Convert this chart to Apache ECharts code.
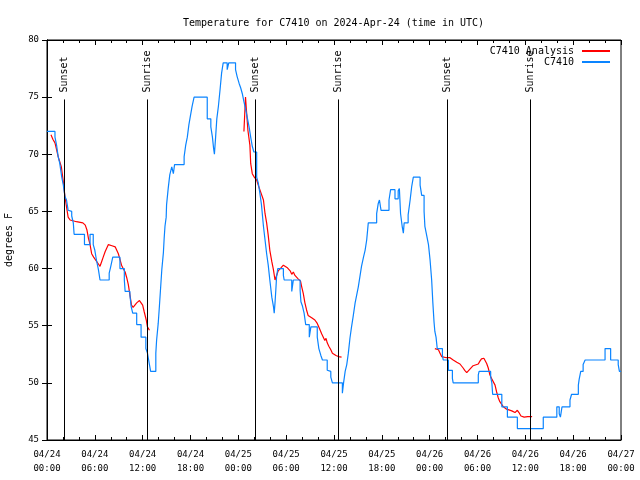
<!DOCTYPE html>
<html>
<head>
<meta charset="utf-8">
<script src="https://cdn.jsdelivr.net/npm/echarts@6/dist/echarts.min.js"></script>
<style>html,body{margin:0;padding:0;background:#fff}#c{width:640px;height:480px}</style>
</head>
<body>
<div id="c"></div>
<script>
// hours since 2024-04-24 00:00 UTC, temperature (F)
const xTickLabels = ['04/24\n00:00','04/24\n06:00','04/24\n12:00','04/24\n18:00','04/25\n00:00','04/25\n06:00','04/25\n12:00','04/25\n18:00','04/26\n00:00','04/26\n06:00','04/26\n12:00','04/26\n18:00','04/27\n00:00'];
const yTicks = [45,50,55,60,65,70,75,80];

const obsC7410 = [
[0,72.0],[1.0,71.5],[1.2,70.8],[1.4,69.8],[1.6,69.2],[1.85,68.0],[2.05,67.3],[2.25,66.3],[2.45,66.0],[2.65,65.1],
[2.9,65.0],[3.1,64.6],[3.3,64.0],[3.4,63.0],[4.7,62.1],[5.4,63.0],[5.8,62.1],[6.0,61.6],[6.2,60.75],[6.45,59.9],
[6.65,59.0],[7.8,59.6],[8.0,60.2],[8.25,61.0],[9.15,60.0],[9.7,59.0],[9.8,58.0],[10.4,57.7],[10.55,56.7],[10.75,56.1],
[11.25,55.1],[11.8,54.0],[12.4,53.0],[12.6,52.6],[12.85,51.6],[13.0,51.0],[13.65,52.6],[13.75,53.75],[13.95,55.2],[14.1,56.7],
[14.25,58.3],[14.4,59.9],[14.6,61.4],[14.7,62.7],[14.8,63.7],[14.95,64.5],[15.0,65.6],[15.2,67.0],[15.4,68.2],[15.65,68.9],
[15.85,68.3],[16.0,69.1],[17.2,69.8],[17.4,70.8],[17.6,71.5],[17.8,72.6],[18.0,73.4],[18.2,74.2],[18.45,75.0],[20.1,73.1],
[20.55,72.4],[20.75,71.5],[20.9,70.5],[21.0,70.0],[21.15,71.5],[21.3,73.1],[21.5,74.2],[21.7,75.6],[21.9,77.1],[22.1,78.0],
[22.6,77.4],[22.8,78.0],[23.65,77.4],[23.85,76.8],[24.1,76.2],[24.3,75.8],[24.5,75.3],[24.7,74.6],[24.9,74.0],[25.1,73.3],
[25.35,72.4],[25.55,71.5],[25.75,70.7],[25.95,70.2],[26.3,68.0],[26.5,67.5],[26.7,66.6],[26.9,65.6],[27.15,63.7],[27.35,62.5],
[27.55,61.3],[27.75,60.3],[27.95,59.0],[28.2,57.5],[28.4,56.7],[28.5,56.1],[28.6,57.0],[28.7,58.1],[28.8,59.3],[28.95,60.0],
[29.65,59.4],[29.75,59.0],[30.7,58.0],[30.9,59.0],[31.75,58.1],[31.85,57.1],[32.05,56.7],[32.25,56.1],[32.45,55.1],[32.9,54.0],
[33.1,54.9],[33.9,54.0],[34.1,53.0],[34.35,52.4],[34.55,52.0],[35.15,51.1],[35.4,51.0],[35.6,50.5],[35.8,50.0],[37.05,49.1],
[37.2,50.0],[37.4,51.0],[37.6,51.6],[37.8,52.6],[38.0,53.9],[38.2,54.9],[38.4,55.8],[38.65,57.0],[38.85,57.7],[39.05,58.4],
[39.25,59.3],[39.45,60.2],[39.7,61.0],[39.9,61.6],[40.1,62.5],[40.3,64.0],[41.35,64.8],[41.55,65.7],[41.7,66.0],[41.9,65.1],
[42.9,66.0],[43.1,66.9],[43.65,66.1],[44.05,66.8],[44.2,67.0],[44.35,64.8],[44.55,63.7],[44.7,63.1],[44.8,64.0],[45.3,64.7],
[45.55,66.0],[45.75,67.2],[45.95,68.0],[46.8,67.3],[47.0,66.4],[47.3,65.0],[47.4,63.7],[47.6,63.0],[47.85,62.1],[48.05,60.75],
[48.25,59.0],[48.4,57.0],[48.55,55.3],[48.65,54.5],[48.8,54.0],[48.95,53.0],[49.6,52.4],[49.7,52.0],[50.35,51.1],[50.85,50.4],
[50.95,50.0],[54.1,50.7],[54.2,51.0],[55.65,50.5],[55.8,50.0],[55.9,49.0],[57.05,47.9],[57.75,47.0],[59.0,46.0],[62.25,47.0],
[63.95,47.9],[64.25,47.3],[64.4,47.0],[64.6,47.9],[65.6,48.5],[65.8,49.0],[66.65,49.8],[66.75,50.3],[66.95,51.0],[67.25,51.6],
[67.5,52.0],[70.0,53.0],[70.7,52.0],[71.65,51.6],[71.8,51.0],[72,51.0]
];

const analysisNight1 = [
[0.5,71.7],[0.75,71.3],[1.0,71.0],[1.2,70.4],[1.4,69.8],[1.6,69.35],[1.8,68.9],[2.05,67.6],[2.25,66.3],[2.45,65.4],
[2.65,64.5],[2.9,64.25],[3.7,64.1],[4.5,64.0],[4.8,63.8],[5.0,63.4],[5.2,62.65],[5.4,62.1],[5.6,61.3],[5.85,61.0],
[6.05,60.9],[6.45,60.4],[6.65,60.2],[6.85,60.6],[7.05,61.0],[7.3,61.5],[7.5,61.8],[7.7,62.1],[8.15,62.0],[8.55,61.9],
[8.75,61.8],[8.95,61.3],[9.15,60.8],[9.35,60.3],[9.55,60.0],[9.8,59.7],[10.0,59.2],[10.2,58.6],[10.4,57.7],[10.6,56.8],
[10.8,56.6],[11.25,57.0],[11.6,57.2],[11.8,57.3],[12.0,56.8],[12.2,56.2],[12.45,55.5],[12.6,54.9],[12.85,54.6]
];
const analysisNight2 = [
[24.7,72.0],[24.9,75.0],[25.0,74.0],[25.2,72.1],[25.45,70.8],[25.55,69.2],[25.75,68.3],[26.0,68.0],[26.3,67.75],[26.5,67.3],
[26.7,67.2],[27.15,66.0],[27.35,64.8],[27.55,64.0],[27.75,62.9],[27.95,61.6],[28.2,60.6],[28.4,59.9],[28.6,59.0],[28.8,59.4],
[29.0,59.8],[29.4,60.1],[29.65,60.3],[29.85,60.4],[30.1,60.1],[30.5,59.8],[30.7,59.5],[30.9,59.7],[31.1,59.4],[31.5,59.1],
[31.8,58.9],[31.95,58.4],[32.15,57.8],[32.35,57.0],[32.55,56.4],[32.75,55.9],[33.2,55.7],[33.6,55.5],[33.9,55.2],[34.15,54.8],
[34.45,54.3],[34.85,53.7],[35.0,53.9],[35.15,53.5],[35.35,53.2],[35.6,52.9],[35.8,52.6],[36.0,52.5],[36.25,52.4],[36.55,52.3],
[36.95,52.25]
];
const analysisNight3 = [
[48.65,53.0],[49.1,52.9],[49.3,52.6],[49.5,52.3],[49.7,52.15],[50.1,52.2],[50.55,52.2],[50.75,52.1],[50.95,52.0],[51.4,51.8],
[51.8,51.65],[52.0,51.5],[52.2,51.3],[52.4,51.1],[52.65,50.9],[52.85,51.0],[53.05,51.2],[53.25,51.3],[53.45,51.5],[53.7,51.6],
[54.1,51.65],[54.3,51.9],[54.5,52.1],[54.8,52.15],[55.0,52.0],[55.15,51.7],[55.35,51.3],[55.55,50.7],[55.75,50.4],[55.95,50.3],
[56.2,49.8],[56.4,49.2],[56.6,48.7],[56.8,48.35],[57.0,48.2],[57.25,47.9],[57.45,47.8],[57.65,47.7],[57.85,47.6],[58.3,47.55],
[58.7,47.4],[59.0,47.6],[59.2,47.4],[59.45,47.1],[59.85,47.0],[60.3,47.05],[60.85,47.05]
];

const sunHours = [2.2, 12.6, 26.13, 36.54, 50.2, 60.63];
const sunNames = ['Sunset','Sunrise','Sunset','Sunrise','Sunset','Sunrise'];
const sunLineTop = 74.8;
const sunLabelY = 75.4;

const FONT = 'DejaVu Sans Mono';
const RED = '#ff0000', BLUE = '#0a84ff';

const chart = echarts.init(document.getElementById('c'), null, {renderer:'canvas'});

function analysisSeries(d){
  return {name:'C7410 Analysis', type:'line', data:d, showSymbol:false, symbol:'none',
    lineStyle:{color:RED,width:1.2}, itemStyle:{color:RED}, animation:false, z:3};
}

const option = {
  animation:false,
  backgroundColor:'#fff',
  title:{text:'Temperature for C7410 on 2024-Apr-24 (time in UTC)', left:178, top:13,
    textStyle:{fontFamily:FONT, fontSize:10, fontWeight:'normal', color:'#000'}},
  legend:{orient:'vertical', right:25, top:41, align:'right', itemGap:1, itemWidth:28, itemHeight:2,
    icon:'rect', data:['C7410 Analysis','C7410'],
    textStyle:{fontFamily:FONT, fontSize:10, color:'#000', padding:[0,3,0,0]}},
  grid:{left:47, right:19, top:40, bottom:40, show:true, borderColor:'#000', borderWidth:1,
    containLabel:false, outerBoundsMode:'none'},
  xAxis:[{
    type:'value', min:0, max:72, interval:6,
    axisLine:{lineStyle:{color:'#000'}},
    axisTick:{inside:true, length:5, lineStyle:{color:'#000'}},
    minorTick:{show:true, splitNumber:3, length:3, lineStyle:{color:'#000'}},
    splitLine:{show:false},
    axisLabel:{fontFamily:FONT, fontSize:9, color:'#000', margin:8, lineHeight:14,
      showMinLabel:true, showMaxLabel:true, hideOverlap:false,
      formatter:function(v){ return xTickLabels[Math.round(v/6)] || ''; }}
  },{
    type:'value', min:0, max:72, interval:6, position:'top',
    axisLine:{lineStyle:{color:'#000'}},
    axisTick:{inside:true, length:5, lineStyle:{color:'#000'}},
    minorTick:{show:true, splitNumber:3, length:3, lineStyle:{color:'#000'}},
    splitLine:{show:false}, axisLabel:{show:false}
  }],
  yAxis:[{
    type:'value', min:yTicks[0], max:yTicks[yTicks.length-1], interval:5,
    name:'degrees F', nameLocation:'middle', nameGap:33,
    nameTextStyle:{fontFamily:FONT, fontSize:10, color:'#000'},
    axisLine:{lineStyle:{color:'#000'}},
    axisTick:{inside:true, length:5, lineStyle:{color:'#000'}},
    splitLine:{show:false},
    axisLabel:{fontFamily:FONT, fontSize:9, color:'#000', margin:8}
  },{
    type:'value', min:yTicks[0], max:yTicks[yTicks.length-1], interval:5, position:'right',
    axisLine:{lineStyle:{color:'#000'}},
    axisTick:{inside:true, length:5, lineStyle:{color:'#000'}},
    splitLine:{show:false}, axisLabel:{show:false}
  }],
  series:[
    analysisSeries(analysisNight1),
    {name:'C7410', type:'line', data:obsC7410, step:'end', showSymbol:false, symbol:'none',
      lineStyle:{color:BLUE,width:1.2}, itemStyle:{color:BLUE}, animation:false, z:4},
    analysisSeries(analysisNight2),
    analysisSeries(analysisNight3),
    {name:'sun', type:'line', data:[], symbol:'none', animation:false, z:2,
      markLine:{symbol:'none', silent:true, animation:false,
        label:{show:false},
        lineStyle:{color:'#000', type:'solid', width:1, opacity:1},
        emphasis:{disabled:true},
        data: sunHours.map(h => [{coord:[h, yTicks[0]]},{coord:[h, sunLineTop]}])}},
    {name:'sunLabels', type:'scatter', symbolSize:0, animation:false, silent:true, z:5,
      itemStyle:{opacity:1},
      data: sunHours.map((h,i) => [h, sunLabelY, sunNames[i]]),
      label:{show:true, position:[0,0], rotate:90, align:'left', verticalAlign:'middle',
        fontFamily:FONT, fontSize:10, color:'#000', opacity:1,
        formatter:function(p){ return p.value[2]; }}}
  ]
};
chart.setOption(option);
</script>
</body>
</html>
